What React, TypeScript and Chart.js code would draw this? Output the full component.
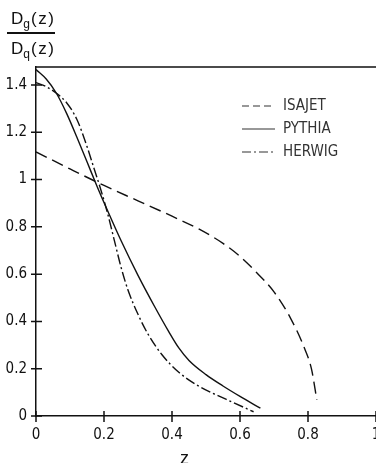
import React, { useEffect, useRef } from "react";
import { Chart, registerables } from "chart.js";

Chart.register(...registerables);

// ---- data ----
const seriesNames = ["ISAJET", "PYTHIA", "HERWIG"];

const isajetX = [0, 0.1, 0.2, 0.3, 0.4, 0.48, 0.55, 0.6, 0.65, 0.7, 0.75, 0.79, 0.81, 0.826];
const isajetY = [1.117, 1.045, 0.975, 0.91, 0.845, 0.79, 0.73, 0.675, 0.605, 0.525, 0.41, 0.285, 0.2, 0.068];

const pythiaX = [0, 0.03, 0.06, 0.09, 0.12, 0.15, 0.18, 0.21, 0.25, 0.3, 0.35, 0.39, 0.42, 0.45, 0.5, 0.55, 0.6, 0.66];
const pythiaY = [1.465, 1.425, 1.365, 1.28, 1.18, 1.075, 0.97, 0.87, 0.742, 0.595, 0.46, 0.358, 0.288, 0.235, 0.175, 0.127, 0.083, 0.033];

const herwigX = [0, 0.03, 0.06, 0.09, 0.12, 0.15, 0.17, 0.19, 0.21, 0.23, 0.25, 0.27, 0.3, 0.33, 0.37, 0.42, 0.48, 0.56, 0.64];
const herwigY = [1.41, 1.393, 1.365, 1.325, 1.255, 1.14, 1.05, 0.96, 0.86, 0.745, 0.63, 0.535, 0.43, 0.345, 0.26, 0.185, 0.125, 0.07, 0.018];

const xTicks = [0, 0.2, 0.4, 0.6, 0.8, 1];
const yTicks = [0, 0.2, 0.4, 0.6, 0.8, 1, 1.2, 1.4];

const NARROW = '"Liberation Sans Narrow", "DejaVu Sans Condensed", "Liberation Sans", sans-serif';
const INK = "#111";

const toPts = (xs: number[], ys: number[]) => xs.map((x, i) => ({ x, y: ys[i] }));
const fmt = (v: any) => String(Math.round(Number(v) * 10) / 10);

const decor = {
  id: "decor",
  afterDraw(chart: any) {
    const { ctx, chartArea: a, scales } = chart;
    const x = scales.x;
    const y = scales.y;
    ctx.save();
    ctx.strokeStyle = INK;
    ctx.lineWidth = 1.5;
    ctx.beginPath();
    ctx.moveTo(a.left, a.top);
    ctx.lineTo(a.right, a.top);
    y.ticks.forEach((t: any) => {
      const py = y.getPixelForValue(t.value);
      ctx.moveTo(a.left - 5, py);
      ctx.lineTo(a.left + 6, py);
    });
    x.ticks.forEach((t: any) => {
      const px = x.getPixelForValue(t.value);
      ctx.moveTo(px, a.bottom - 5);
      ctx.lineTo(px, a.bottom + 6);
    });
    ctx.stroke();

    // legend
    chart.data.datasets.forEach((ds: any, i: number) => {
      const ly = 106 + i * 23;
      ctx.beginPath();
      ctx.setLineDash(ds.legendDash || []);
      ctx.lineWidth = 1.2;
      ctx.strokeStyle = "#333";
      ctx.moveTo(242, ly);
      ctx.lineTo(275, ly);
      ctx.stroke();
      ctx.setLineDash([]);
      ctx.fillStyle = "#333";
      ctx.font = `15px ${NARROW}`;
      ctx.textBaseline = "middle";
      ctx.textAlign = "left";
      ctx.fillText(ds.label, 283, ly);
    });
    ctx.restore();
  },
};

export default function App() {
  const ref = useRef<HTMLCanvasElement>(null);

  useEffect(() => {
    if (!ref.current) return;
    const chart = new Chart(ref.current, {
      type: "line",
      data: {
        datasets: [
          {
            label: seriesNames[0],
            data: toPts(isajetX, isajetY),
            borderColor: INK,
            borderWidth: 1.4,
            borderDash: [12, 6],
            legendDash: [7, 4],
          } as any,
          {
            label: seriesNames[1],
            data: toPts(pythiaX, pythiaY),
            borderColor: INK,
            borderWidth: 1.4,
            legendDash: [],
          } as any,
          {
            label: seriesNames[2],
            data: toPts(herwigX, herwigY),
            borderColor: INK,
            borderWidth: 1.4,
            borderDash: [10, 3, 2, 3],
            legendDash: [9, 3, 2, 3],
          } as any,
        ],
      },
      options: {
        responsive: false,
        animation: false,
        devicePixelRatio: 1,
        layout: { padding: { top: 67, left: 0, right: 0, bottom: 0 } },
        elements: {
          point: { radius: 0 },
          line: { cubicInterpolationMode: "monotone", fill: false },
        },
        plugins: {
          legend: { display: false },
          tooltip: { enabled: false },
          title: { display: false },
        },
        scales: {
          x: {
            type: "linear",
            min: 0,
            max: 1,
            grid: { display: false, drawTicks: false },
            border: { display: true, color: INK, width: 1.5 },
            ticks: {
              padding: 10,
              color: INK,
              font: { family: NARROW, size: 15 },
              maxRotation: 0,
              autoSkip: false,
              callback: fmt,
            },
            afterBuildTicks: (s: any) => {
              s.ticks = xTicks.map((v) => ({ value: v }));
            },
            afterFit: (s: any) => {
              s.height = 47;
              s.paddingLeft = 0;
              s.paddingRight = 0;
            },
          },
          y: {
            type: "linear",
            min: 0,
            max: 1.476,
            grid: { display: false, drawTicks: false },
            border: { display: true, color: INK, width: 1.5 },
            ticks: {
              padding: 9,
              color: INK,
              font: { family: NARROW, size: 15 },
              autoSkip: false,
              callback: fmt,
            },
            afterBuildTicks: (s: any) => {
              s.ticks = yTicks.map((v) => ({ value: v }));
            },
            afterFit: (s: any) => {
              s.width = 36;
              s.paddingTop = 0;
              s.paddingBottom = 0;
            },
          },
        },
      },
      plugins: [decor],
    });
    return () => chart.destroy();
  }, []);

  const txt: React.CSSProperties = {
    position: "absolute",
    fontFamily: '"Liberation Sans", Arial, sans-serif',
    fontSize: 17,
    lineHeight: "17px",
    color: INK,
    whiteSpace: "nowrap",
  };

  return (
    <div
      style={{
        position: "fixed",
        left: 0,
        top: 0,
        width: 376,
        height: 463,
        overflow: "hidden",
        background: "#fff",
      }}
    >
      <canvas ref={ref} width={376} height={463} style={{ display: "block" }} />
      <div style={{ ...txt, left: 11, top: 10 }}>
        D<span style={{ fontSize: 12, position: "relative", top: 4 }}>g</span>
        <span style={{ letterSpacing: 1.5, marginLeft: 1 }}>(z)</span>
      </div>
      <div
        style={{
          position: "absolute",
          left: 7,
          top: 32,
          width: 48,
          height: 1.5,
          background: INK,
        }}
      />
      <div style={{ ...txt, left: 11, top: 40 }}>
        D<span style={{ fontSize: 12, position: "relative", top: 4 }}>q</span>
        <span style={{ letterSpacing: 1.5, marginLeft: 1 }}>(z)</span>
      </div>
      <div style={{ ...txt, left: 180, top: 449, fontSize: 18, lineHeight: "18px" }}>z</div>
    </div>
  );
}
